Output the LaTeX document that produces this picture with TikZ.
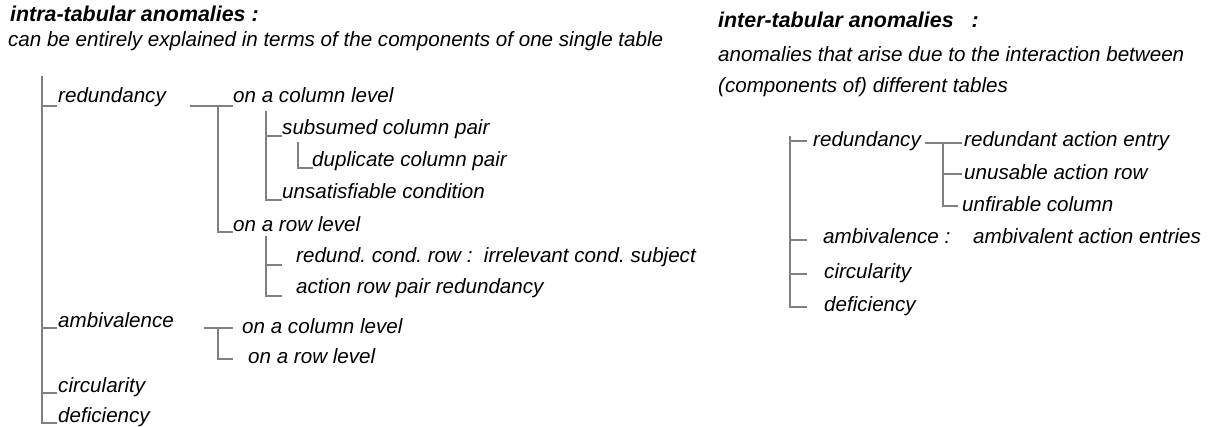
\documentclass[tikz,border=0pt]{standalone}
\usepackage{fontspec}
\setmainfont{Liberation Sans}
\frenchspacing
\begin{document}
\begin{tikzpicture}[x=1pt,y=-1pt,
  lbl/.style={anchor=base west,inner sep=0pt,font=\fontsize{20.6}{24}\selectfont\itshape},
  ttl/.style={anchor=base west,inner sep=0pt,font=\fontsize{21.4}{24}\selectfont\bfseries\itshape},
  br/.style={draw=black!50,line width=1.4pt}]
\useasboundingbox (0,0) rectangle (1220,427);
% ---------- left ----------
\node[ttl] (t1) at (10,22) {intra-tabular anomalies :};
\node[lbl] (t2) at (8,47) {can be entirely explained in terms of the components of one single table};
\node[lbl] (L1) at (58,103) {redundancy};
\node[lbl] (L11) at (233,103) {on a column level};
\node[lbl] (L111) at (282,135) {subsumed column pair};
\node[lbl] (L1111) at (312,167) {duplicate column pair};
\node[lbl] (L112) at (282,199) {unsatisfiable condition};
\node[lbl] (L12) at (233,232) {on a row level};
\node[lbl] (L121) at (296,263) {redund. cond. row :\ \ irrelevant cond. subject};
\node[lbl] (L122) at (296,294) {action row pair redundancy};
\node[lbl] (L2) at (58,327) {ambivalence};
\node[lbl] (L21) at (242,334) {on a column level};
\node[lbl] (L22) at (248,363) {on a row level};
\node[lbl] (L3) at (58,392) {circularity};
\node[lbl] (L4) at (58,422) {deficiency};
\coordinate (lroot) at (42,76);
\coordinate (r1a) at (190,106);
\coordinate (r1b) at (218,106);
\coordinate (c1) at (266,111);
\coordinate (s1) at (298,142);
\coordinate (rw) at (266,236);
\coordinate (a1a) at (204,328);
\coordinate (a1b) at (218,328);
\draw[br] (lroot) |- ([shift={(-1,3)}]L1.base west);
\draw[br] (lroot) |- ([shift={(-1,1)}]L2.base west);
\draw[br] (lroot) |- ([shift={(-1,1)}]L3.base west);
\draw[br] (lroot) |- ([shift={(-1,1)}]L4.base west);
\draw[br] (r1a) -- ([shift={(0,3)}]L11.base west);
\draw[br] (r1b) |- ([shift={(0,0)}]L12.base west);
\draw[br] (c1) |- ([shift={(0,1)}]L111.base west);
\draw[br] (c1) |- ([shift={(0,1)}]L112.base west);
\draw[br] (s1) |- ([shift={(1,1)}]L1111.base west);
\draw[br] (rw) |- ([shift={(-14,2)}]L121.base west);
\draw[br] (rw) |- ([shift={(-14,2)}]L122.base west);
\draw[br] (a1a) -- ([shift={(-9,-6)}]L21.base west);
\draw[br] (a1b) |- ([shift={(-15,-4)}]L22.base west);
% ---------- right ----------
\node[ttl] (t3) at (718,28) {inter-tabular anomalies\ \ \ :};
\node[lbl] (t4) at (718,62) {anomalies that arise due to the interaction between};
\node[lbl] (t5) at (718,93) {(components of) different tables};
\node[lbl] (R1) at (813,147) {redundancy};
\node[lbl] (R11) at (964,147) {redundant action entry};
\node[lbl] (R12) at (964,180) {unusable action row};
\node[lbl] (R13) at (962,212) {unfirable column};
\node[lbl] (R2) at (823,244) {ambivalence :\ \ \ \ ambivalent action entries};
\node[lbl] (R3) at (824,279) {circularity};
\node[lbl] (R4) at (824,312) {deficiency};
\coordinate (rroot) at (790,136);
\coordinate (q1) at (925,143);
\coordinate (q2) at (943,143);
\draw[br] (rroot) -- (790,308);
\draw[br] (790,141) -- ([shift={(-6,-6)}]R1.base west);
\draw[br] (790,240) -- ([shift={(-16,-4)}]R2.base west);
\draw[br] (790,274) -- ([shift={(-17,-5)}]R3.base west);
\draw[br] (790,307) -- ([shift={(-17,-5)}]R4.base west);
\draw[br] (q1) -- ([shift={(-2,-4)}]R11.base west);
\draw[br] (q2) |- ([shift={(-2,-6)}]R12.base west);
\draw[br] (q2) |- ([shift={(-4,-6)}]R13.base west);
\end{tikzpicture}
\end{document}
